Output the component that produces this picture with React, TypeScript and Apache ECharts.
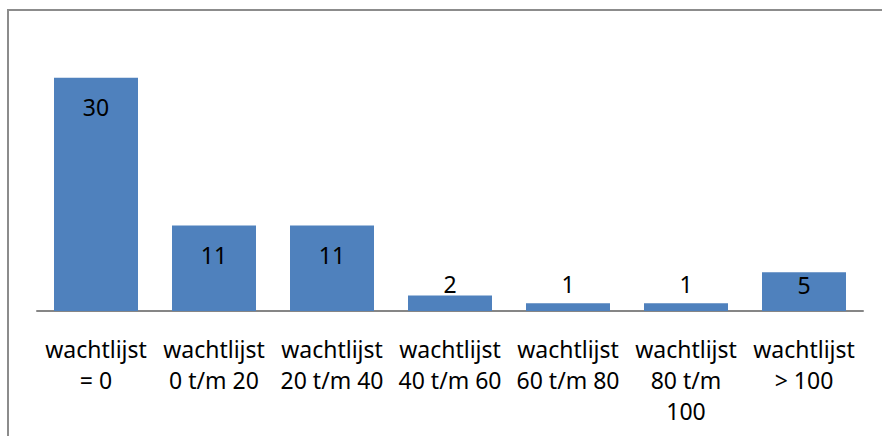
import React, { useEffect, useRef } from "react";
import * as echarts from "echarts";

const categories = [
  "wachtlijst\n= 0",
  "wachtlijst\n0 t/m 20",
  "wachtlijst\n20 t/m 40",
  "wachtlijst\n40 t/m 60",
  "wachtlijst\n60 t/m 80",
  "wachtlijst\n80 t/m\n100",
  "wachtlijst\n> 100",
];
const values = [30, 11, 11, 2, 1, 1, 5];

const FONT = "Noto Sans";

export default function App() {
  const ref = useRef<HTMLDivElement>(null);
  useEffect(() => {
    document.body.style.margin = "0";
    const chart = echarts.init(ref.current!, null, { renderer: "svg" });
    const labelFor = (v: number) => {
      if (v >= 10) return { position: "insideTop", distance: 18 };
      if (v >= 5) return { position: "insideTop", distance: 1 };
      if (v >= 2) return { position: "top", distance: 0 };
      return { position: "top", distance: 8 };
    };
    chart.setOption({
      animation: false,
      backgroundColor: "#ffffff",
      grid: { left: 37, right: 19, top: 39, bottom: 125 },
      xAxis: {
        type: "category",
        data: categories,
        axisTick: { show: false },
        axisLine: { lineStyle: { color: "#868686", width: 2 } },
        axisLabel: {
          interval: 0,
          margin: 22,
          color: "#000",
          fontFamily: FONT,
          fontSize: 23,
          lineHeight: 31,
          align: "center",
        },
      },
      yAxis: {
        type: "value",
        min: 0,
        max: 35,
        show: false,
      },
      series: [
        {
          type: "bar",
          barWidth: 84,
          itemStyle: { color: "#4F81BD" },
          data: values.map((v) => ({
            value: v,
            label: labelFor(v),
          })),
          label: {
            show: true,
            color: "#000",
            fontFamily: FONT,
            fontSize: 23,
          },
        },
      ],
      graphic: [
        {
          type: "polyline",
          shape: { points: [[8, 440], [8, 10], [890, 10]] },
          style: { stroke: "#8c8c8c", lineWidth: 2, fill: null },
          silent: true,
        },
      ],
    });
    return () => chart.dispose();
  }, []);
  return <div ref={ref} style={{ width: 882, height: 436 }} />;
}
